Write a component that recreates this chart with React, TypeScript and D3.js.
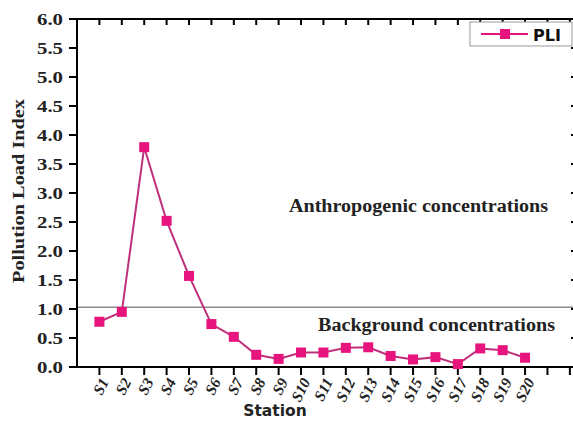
import React from "react";
import * as d3 from "d3";

const stations = ["S1","S2","S3","S4","S5","S6","S7","S8","S9","S10","S11","S12","S13","S14","S15","S16","S17","S18","S19","S20"];
const pli = [0.78,0.95,3.79,2.52,1.57,0.74,0.52,0.21,0.14,0.25,0.25,0.33,0.34,0.19,0.13,0.17,0.05,0.32,0.29,0.16];
const yTicks = [0,0.5,1,1.5,2,2.5,3,3.5,4,4.5,5,5.5,6];
const xTickPositions = d3.range(1, 23);
const threshold = 1.03;

const W = 573, H = 421;
const left = 77, right = 573, top = 19, bottom = 367;
const serif = "'Liberation Serif', 'Times New Roman', serif";
const sans = "'DejaVu Sans', Verdana, sans-serif";

export default function App() {
  const x = d3.scaleLinear().domain([0, 22.14]).range([left, right]);
  const y = d3.scaleLinear().domain([0, 6]).range([bottom, top]);

  const line = d3.line<number>()
    .x((d, i) => x(i + 1))
    .y(d => y(d));

  return (
    <div style={{ position: "fixed", left: 0, top: 0 }}>
      <svg width={W} height={H} style={{ display: "block", background: "#fff" }}>
        {/* threshold line */}
        <line x1={left} x2={right} y1={y(threshold)} y2={y(threshold)} stroke="#8a8a8a" strokeWidth={1.5} />

        {/* frame */}
        <line x1={left} x2={left} y1={top} y2={bottom} stroke="#000" strokeWidth={2} />
        <line x1={left - 7} x2={right} y1={bottom} y2={bottom} stroke="#000" strokeWidth={2} />
        <line x1={left} x2={right} y1={top} y2={top} stroke="#000" strokeWidth={2} />

        {/* y ticks */}
        {yTicks.map(t => (
          <g key={t}>
            <line x1={left - 8} x2={left} y1={y(t)} y2={y(t)} stroke="#000" strokeWidth={2} />
            <line x1={right - 2} x2={right} y1={y(t)} y2={y(t)} stroke="#000" strokeWidth={2} />
            <text x={37} y={y(t)} dy="0.35em" textLength={26} lengthAdjust="spacingAndGlyphs"
              fontFamily={serif} fontWeight="bold" fontSize={17} fill="#222">
              {t.toFixed(1)}
            </text>
          </g>
        ))}

        {/* x ticks */}
        {xTickPositions.map(p => (
          <g key={p}>
            <line x1={x(p)} x2={x(p)} y1={bottom} y2={bottom + 8} stroke="#000" strokeWidth={2} />
            <line x1={x(p)} x2={x(p)} y1={top} y2={top + 6} stroke="#000" strokeWidth={2} />
          </g>
        ))}
        {stations.map((s, i) => (
          <text key={s} transform={`translate(${x(i + 1) + 5},${bottom + 12}) rotate(-63)`} textAnchor="end" dy="0.35em"
            fontFamily={serif} fontWeight="bold" fontStyle="italic" fontSize={15.5} fill="#222">
            {s}
          </text>
        ))}

        {/* series */}
        <path d={line(pli) || ""} fill="none" stroke="#c0307a" strokeWidth={2} />
        {pli.map((v, i) => (
          <rect key={i} x={x(i + 1) - 5} y={y(v) - 5} width={10} height={10} fill="#e8147e" />
        ))}

        {/* annotations */}
        <text x={289} y={212} textLength={259} lengthAdjust="spacingAndGlyphs" fontFamily={serif} fontWeight="bold" fontSize={18} fill="#222">Anthropogenic concentrations</text>
        <text x={318} y={331} textLength={237} lengthAdjust="spacingAndGlyphs" fontFamily={serif} fontWeight="bold" fontSize={18} fill="#222">Background concentrations</text>

        {/* axis titles */}
        <text transform={`translate(24,${191}) rotate(-90)`} textAnchor="middle" textLength={184} lengthAdjust="spacingAndGlyphs"
          fontFamily={serif} fontWeight="bold" fontSize={17} fill="#222">
          Pollution Load Index
        </text>
        <text x={275} y={416} textAnchor="middle" fontFamily={sans} fontWeight="bold" fontSize={15.5} fill="#222">Station</text>

        {/* legend */}
        <rect x={470} y={22} width={102} height={24} fill="#fff" stroke="#999" strokeWidth={1} />
        <line x1={481} x2={528} y1={34} y2={34} stroke="#e8147e" strokeWidth={2} />
        <rect x={500} y={29} width={10} height={10} fill="#e8147e" />
        <text x={533} y={41} fontFamily={sans} fontWeight="bold" fontSize={16} fill="#111">PLI</text>
      </svg>
    </div>
  );
}
